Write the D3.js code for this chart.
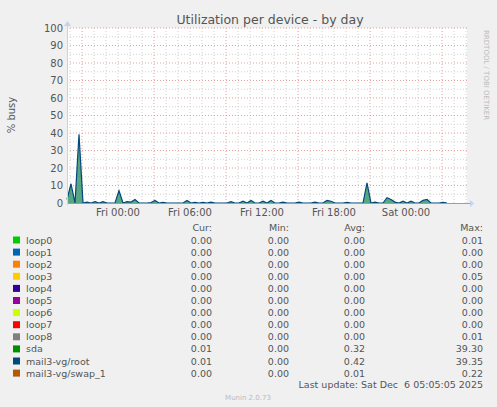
<!DOCTYPE html>
<html><head><meta charset="utf-8">
<script src="https://cdn.jsdelivr.net/npm/d3@7"></script>
<style>body{margin:0;background:#f0f0f0}svg{font-family:"DejaVu Sans",sans-serif}</style>
</head><body><div id="chart"></div>
<script>
// one sample every 20 minutes, starting Thu 19:45
const busy = [
  2, 11, 0, 39.3, 0, 0.5, 0, 0.8, 0, 0.8, 0, 0,
  0, 7, 0, 0.8, 0.5, 2, 0, 0, 0, 0.3, 1.5, 0,
  0.3, 0, 0, 0, 0, 0, 1.5, 0, 0.3, 0, 0.3, 0,
  0.5, 0, 0, 0, 0, 0.8, 0, 0, 1, 0, 1.5, 0,
  0, 1, 0, 1.5, 0, 0, 0.5, 0, 0, 0, 0.5, 0,
  0, 0, 0.5, 0, 0, 1.5, 1, 0, 0, 0, 0.4, 0,
  0, 0, 0, 11.5, 0, 0.5, 0, 0, 3, 2, 0.5, 0,
  1, 0, 1, 0, 0, 1.5, 2, 0, 0, 0, 0.3, 0
];
const devices = ['loop0','loop1','loop2','loop3','loop4','loop5','loop6','loop7','loop8','sda','mail3-vg/root','mail3-vg/swap_1'];
const colors = ['#00cc00','#0066b3','#ff8000','#ffcc00','#330099','#990099','#ccff00','#ff0000','#808080','#008f00','#00487d','#b35a00'];
const cur = ['0.00','0.00','0.00','0.00','0.00','0.00','0.00','0.00','0.00','0.01','0.01','0.00'];
const min = ['0.00','0.00','0.00','0.00','0.00','0.00','0.00','0.00','0.00','0.00','0.00','0.00'];
const avg = ['0.00','0.00','0.00','0.00','0.00','0.00','0.00','0.00','0.00','0.32','0.42','0.01'];
const max = ['0.01','0.00','0.00','0.05','0.00','0.00','0.00','0.00','0.01','39.30','39.35','0.22'];
const tickLabels = ['Fri 00:00','Fri 06:00','Fri 12:00','Fri 18:00','Sat 00:00'];

const svg = d3.select('#chart').append('svg').attr('width', 497).attr('height', 407);
const start = new Date(2025, 11, 4, 19, 45), end = new Date(2025, 11, 6, 5, 5);
const x = d3.scaleTime().domain([start, end]).range([67, 467]);
const y = d3.scaleLinear().domain([0, 100]).range([203, 28]);
const pts = busy.map((v, i) => ({t: new Date(+start + i * 20 * 60000), v}));

svg.append('rect').attr('x', 67).attr('y', 28).attr('width', 400).attr('height', 175).attr('fill', '#fff');

// grid
const hours = d3.timeHour.range(d3.timeHour.ceil(start), end);
svg.append('g').selectAll('line').data(hours).join('line')
  .attr('x1', d => x(d)).attr('x2', d => x(d)).attr('y1', 28).attr('y2', 203)
  .attr('stroke', d => d.getHours() % 6 === 3 ? '#e6a0a0' : '#d0d0d0')
  .attr('stroke-dasharray', '1,2');
svg.append('g').selectAll('line').data(d3.range(5, 101, 5)).join('line')
  .attr('x1', 67).attr('x2', 467).attr('y1', d => y(d)).attr('y2', d => y(d))
  .attr('stroke', d => d % 10 === 0 ? '#e6a0a0' : '#d0d0d0')
  .attr('stroke-dasharray', '1,2');

// data
svg.append('path').datum(pts)
  .attr('d', d3.area().x(d => x(d.t)).y0(y(0)).y1(d => y(d.v)))
  .attr('fill', '#1f8a5a').attr('opacity', 0.75);
svg.append('path').datum(pts)
  .attr('d', d3.line().x(d => x(d.t)).y(d => y(d.v)))
  .attr('fill', 'none').attr('stroke', '#00487d').attr('stroke-width', 1.2);

// axes
svg.append('line').attr('x1', 67).attr('x2', 470).attr('y1', 203.5).attr('y2', 203.5).attr('stroke', '#c09090');
svg.append('line').attr('x1', 67.5).attr('x2', 67.5).attr('y1', 25).attr('y2', 205).attr('stroke', '#c8d0f0');
svg.append('path').attr('d', 'M470,200L474,203.5L470,207Z').attr('fill', '#c8d0f0');
svg.append('path').attr('d', 'M64,26L67.5,21L71,26Z').attr('fill', '#c8d0f0');

svg.append('g').selectAll('text').data(d3.range(0, 101, 10)).join('text')
  .attr('x', 63).attr('y', d => y(d) + 3.5).attr('text-anchor', 'end')
  .attr('font-size', 10).attr('fill', '#555').text(d => d);
const tickTimes = tickLabels.map((l, i) => new Date(2025, 11, 5, i * 6));
svg.append('g').selectAll('text').data(tickTimes).join('text')
  .attr('x', d => x(d)).attr('y', 216).attr('text-anchor', 'middle')
  .attr('font-size', 10).attr('fill', '#555').text((d, i) => tickLabels[i]);

svg.append('text').attr('x', 270).attr('y', 24).attr('text-anchor', 'middle')
  .attr('font-size', 12.5).attr('fill', '#555').text('Utilization per device - by day');
svg.append('text').attr('transform', 'translate(15,115) rotate(-90)').attr('text-anchor', 'middle')
  .attr('font-size', 10).attr('fill', '#555').text('% busy');
svg.append('text').attr('transform', 'translate(484,30) rotate(90)')
  .attr('font-size', 7).attr('fill', '#bbb').text('RRDTOOL / TOBI OETIKER');

// legend
const cols = [['Cur:', cur, 212], ['Min:', min, 289], ['Avg:', avg, 365], ['Max:', max, 483]];
cols.forEach(c => svg.append('text').attr('x', c[2]).attr('y', 231).attr('text-anchor', 'end')
  .attr('font-size', 9.5).attr('fill', '#555').text(c[0]));
const row = svg.append('g').selectAll('g').data(devices).join('g')
  .attr('transform', (d, i) => `translate(0,${243.5 + i * 12.1})`);
row.append('rect').attr('x', 13).attr('y', -7).attr('width', 7).attr('height', 7)
  .attr('fill', (d, i) => colors[i]);
row.append('text').attr('x', 26).attr('font-size', 9.5).attr('fill', '#555').text(d => d);
cols.forEach(c => row.append('text').attr('x', c[2]).attr('text-anchor', 'end')
  .attr('font-size', 9.5).attr('fill', '#555').text((d, i) => c[1][i]));

svg.append('text').attr('x', 483).attr('y', 388).attr('text-anchor', 'end')
  .attr('font-size', 9.5).attr('fill', '#555').attr('xml:space', 'preserve')
  .text('Last update: Sat Dec  6 05:05:05 2025');
svg.append('text').attr('x', 248).attr('y', 400).attr('text-anchor', 'middle')
  .attr('font-size', 7).attr('fill', '#bbb').text('Munin 2.0.73');
</script></body></html>
